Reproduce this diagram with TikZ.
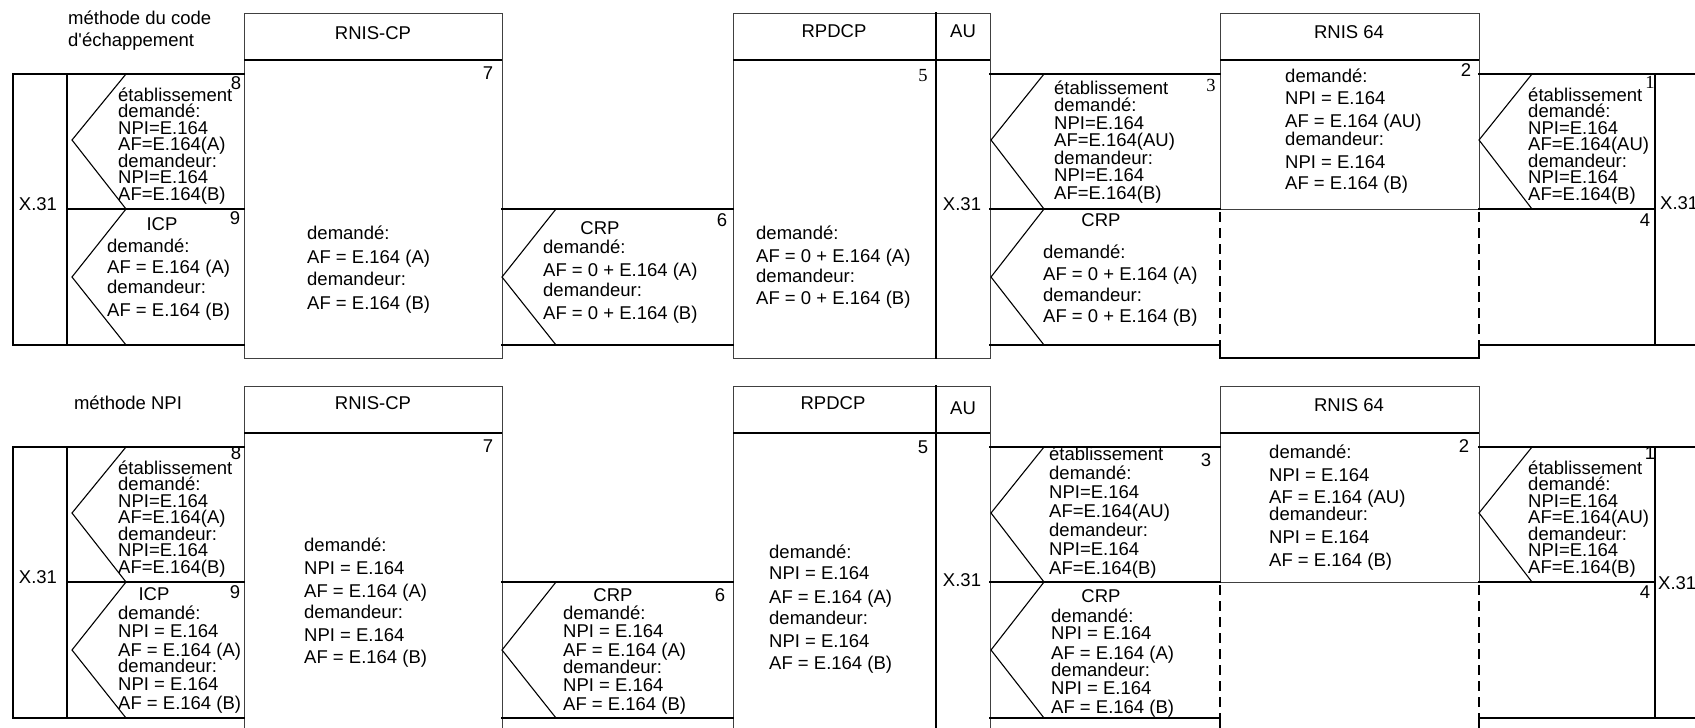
\documentclass[tikz,border=0pt]{standalone}
\usepackage{fontspec}
\setmainfont{Liberation Sans}
\newfontfamily\serifnum{Liberation Serif}
\tikzset{
  mainl/.style={line width=1.8pt, line cap=rect},
  thinl/.style={line width=1.1pt},
  boxl/.style={line width=1pt, draw=black!75},
  hdrl/.style={line width=2pt},
  dashl/.style={line width=1.5pt, dash pattern=on 10pt off 6pt},
  txt/.style={inner sep=0pt, font=\fontsize{18.5}{22}\selectfont},
  numtxt/.style={inner sep=0pt, anchor=base, font=\fontsize{18.5}{22}\selectfont},
}
\newcommand\txtlines[3]{%
  \foreach \yv/\tx [count=\i] in {#3} {\node[txt, anchor=base west] (#1-\i) at (#2,\yv) {\tx};}}
\begin{document}
\begin{tikzpicture}[x=1pt,y=-1pt]
\useasboundingbox (0,0) rectangle (1695,728);
\clip (0,0) rectangle (1695,728);
\foreach \oy in {0,373} {
\begin{scope}[shift={(0,\oy)}]
  % boxes
  \draw[boxl] (244,13) rectangle (502,358);
  \draw[hdrl] (244,60) -- (502,60);
  \draw[boxl] (733,13) rectangle (990,358);
  \draw[hdrl] (733,60) -- (990,60);
  \draw[mainl] (936,13) -- (936,358);
  \draw[boxl] (1220,209) -- (1220,13) -- (1479,13) -- (1479,209);
  \draw[hdrl] (1220,60) -- (1479,60);
  \draw[boxl] (1220,209) -- (1479,209);
  \draw[dashl] (1220,212) -- (1220,348);
  \draw[dashl] (1479,212) -- (1479,348);
  \draw[mainl] (1220,348) -- (1220,358) -- (1479,358) -- (1479,348);
  % left block
  \draw[mainl] (244,74) -- (13,74) -- (13,345) -- (244,345);
  \draw[thinl] (67,74) -- (67,345);
  \draw[mainl] (67,209) -- (244,209);
  \draw[thinl] (126,74) -- (72,140) -- (126,209) -- (72,277) -- (126,345);
  % between RNIS-CP and RPDCP
  \draw[mainl] (502,209) -- (733,209);
  \draw[mainl] (502,345) -- (733,345);
  \draw[thinl] (556,209) -- (502,277) -- (556,345);
  % between AU and RNIS 64
  \draw[mainl] (990,74) -- (1220,74);
  \draw[mainl] (990,209) -- (1220,209);
  \draw[mainl] (990,345) -- (1220,345);
  \draw[thinl] (1044,74) -- (991,140) -- (1044,209) -- (991,277) -- (1044,345);
  % right of RNIS 64
  \draw[mainl] (1479,74) -- (1700,74);
  \draw[mainl] (1479,209) -- (1655,209);
  \draw[mainl] (1479,345) -- (1700,345);
  \draw[mainl] (1655,74) -- (1655,345);
  \draw[thinl] (1532,74) -- (1479,140) -- (1532,209);
\end{scope}}

% ---------- top panel texts ----------
\node[txt, anchor=base west] (m1) at (68,24) {méthode du code};
\node[txt, anchor=base west] (m2) at (68,46) {d\textquotesingle échappement};
\node[numtxt] (h1) at (373,39) {RNIS-CP};
\node[numtxt] (h2) at (834,37) {RPDCP};
\node[numtxt] (h3) at (963,37) {AU};
\node[numtxt] (h4) at (1349,38) {RNIS 64};
\node[numtxt] (x1) at (38,210) {X.31};
\node[numtxt] (x2) at (962,210) {X.31};
\node[txt, anchor=base west] (x3) at (1660,209) {X.31};

\txtlines{a8}{118}{101/établissement,117.5/demandé:,134/NPI=E.164,150.5/AF=E.164(A),167/demandeur:,183.5/NPI=E.164,200/AF=E.164(B)}
\node[numtxt] (n8) at (236,89) {8};
\node[numtxt] (icp) at (162,230) {ICP};
\txtlines{a9}{107}{252/demandé:,273/AF = E.164 (A),293/demandeur:,316/AF = E.164 (B)}
\node[numtxt] (n9) at (235,224) {9};
\txtlines{a7}{307}{239/demandé:,263/AF = E.164 (A),285/demandeur:,309/AF = E.164 (B)}
\node[numtxt] (n7) at (488,79) {7};
\node[numtxt] (crp1) at (600,234) {CRP};
\txtlines{a6}{543}{253/demandé:,276/AF = 0 + E.164 (A),296/demandeur:,319/AF = 0 + E.164 (B)}
\node[numtxt] (n6) at (722,226) {6};
\txtlines{a5}{756}{239/demandé:,262/AF = 0 + E.164 (A),282/demandeur:,304/AF = 0 + E.164 (B)}
\node[numtxt, font=\fontsize{18.5}{22}\serifnum] (n5) at (923,81) {5};
\txtlines{a3}{1054}{94/établissement,111.5/demandé:,129/NPI=E.164,146.5/AF=E.164(AU),164/demandeur:,181.5/NPI=E.164,199/AF=E.164(B)}
\node[numtxt, font=\fontsize{18.5}{22}\serifnum] (n3) at (1211,91) {3};
\node[numtxt] (crp2) at (1101,226) {CRP};
\txtlines{a3b}{1043}{258/demandé:,280/AF = 0 + E.164 (A),301/demandeur:,322/AF = 0 + E.164 (B)}
\txtlines{a2}{1285}{82/demandé:,104/NPI = E.164,127/AF = E.164 (AU),145/demandeur:,168/NPI = E.164,189/AF = E.164 (B)}
\node[numtxt] (n2) at (1466,76) {2};
\txtlines{a1}{1528}{101/établissement,117.5/demandé:,134/NPI=E.164,150.5/AF=E.164(AU),167/demandeur:,183.5/NPI=E.164,200/AF=E.164(B)}
\node[numtxt, font=\fontsize{18.5}{22}\serifnum] (n1) at (1650,88) {1};
\node[numtxt] (n4) at (1645,226) {4};

% ---------- bottom panel texts ----------
\node[numtxt] (mb) at (128,409) {méthode NPI};
\node[numtxt] (hb1) at (373,409) {RNIS-CP};
\node[numtxt] (hb2) at (833,409) {RPDCP};
\node[numtxt] (hb3) at (963,414) {AU};
\node[numtxt] (hb4) at (1349,411) {RNIS 64};
\node[numtxt] (xb1) at (38,583) {X.31};
\node[numtxt] (xb2) at (962,586) {X.31};
\node[txt, anchor=base west] (xb3) at (1658,589) {X.31};

\txtlines{b8}{118}{474/établissement,490.5/demandé:,507/NPI=E.164,523.5/AF=E.164(A),540/demandeur:,556.5/NPI=E.164,573/AF=E.164(B)}
\node[numtxt] (nb8) at (236,459) {8};
\node[numtxt] (icpb) at (154,600) {ICP};
\txtlines{b9}{118}{619/demandé:,637/NPI = E.164,656/AF = E.164 (A),672/demandeur:,690/NPI = E.164,709/AF = E.164 (B)}
\node[numtxt] (nb9) at (235,598) {9};
\txtlines{b7}{304}{551/demandé:,574/NPI = E.164,597/AF = E.164 (A),618/demandeur:,641/NPI = E.164,663/AF = E.164 (B)}
\node[numtxt] (nb7) at (488,452) {7};
\node[numtxt] (crpb1) at (613,601) {CRP};
\txtlines{b6}{563}{619/demandé:,637/NPI = E.164,656/AF = E.164 (A),673/demandeur:,691/NPI = E.164,710/AF = E.164 (B)}
\node[numtxt] (nb6) at (720,601) {6};
\txtlines{b5}{769}{558/demandé:,579/NPI = E.164,603/AF = E.164 (A),624/demandeur:,647/NPI = E.164,669/AF = E.164 (B)}
\node[numtxt] (nb5) at (923,453) {5};
\txtlines{b3}{1049}{460/établissement,479/demandé:,498/NPI=E.164,517/AF=E.164(AU),536/demandeur:,555/NPI=E.164,574/AF=E.164(B)}
\node[numtxt] (nb3) at (1206,466) {3};
\node[numtxt] (crpb2) at (1101,602) {CRP};
\txtlines{b3b}{1051}{622/demandé:,639/NPI = E.164,659/AF = E.164 (A),676/demandeur:,694/NPI = E.164,713/AF = E.164 (B)}
\txtlines{b2}{1269}{458/demandé:,481/NPI = E.164,503/AF = E.164 (AU),520/demandeur:,543/NPI = E.164,566/AF = E.164 (B)}
\node[numtxt] (nb2) at (1464,452) {2};
\txtlines{b1}{1528}{474/établissement,490.5/demandé:,507/NPI=E.164,523.5/AF=E.164(AU),540/demandeur:,556.5/NPI=E.164,573/AF=E.164(B)}
\node[numtxt] (nb1) at (1650,459) {1};
\node[numtxt] (nb4) at (1645,598) {4};
\end{tikzpicture}
\end{document}
